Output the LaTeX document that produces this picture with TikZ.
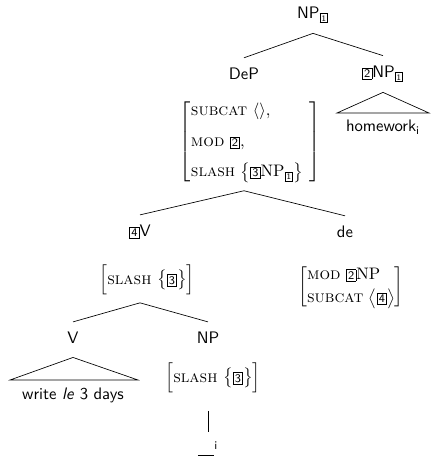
\documentclass[tikz,border=0pt]{standalone}
\usepackage{amsmath}

% boxed structure-sharing tags
\newcommand{\tagbox}[1]{{\setlength{\fboxsep}{0.8pt}\fbox{\sffamily\scriptsize #1}}}
\newcommand{\subtag}[1]{{\setlength{\fboxsep}{0.8pt}\fbox{\sffamily\tiny #1}}}
\newcommand{\feat}[1]{\textsc{#1}}

\begin{document}
\begin{tikzpicture}[x=0.6pt, y=-0.6pt,
    cat/.style={font=\sffamily, inner xsep=2pt, inner ysep=6pt},
    avm/.style={inner xsep=0pt, inner ysep=4.5pt}]
	\useasboundingbox (0,0) rectangle (430,460);

	% NP and its two daughters
	\node[cat] (np) at (313,15) {NP$_{\subtag{1}}$};
	\node[cat] (dep) at (244,74) {DeP};
	\node[cat] (hw) at (383,74) {\tagbox{2}NP$_{\subtag{1}}$};
	\node[cat] (hwtext) at (383,127) {homework\textsubscript{i}};
	\node[avm] (depavm) at (250,142) {$\left[\begin{array}{@{}l@{}}
		\feat{subcat}\ \langle\rangle, \\[7pt]
		\feat{mod}\ \tagbox{2}, \\[6pt]
		\feat{slash}\ \bigl\{\tagbox{3}\mathrm{NP}_{\subtag{1}}\bigr\}
		\end{array}\ \right]$};
	\draw (np.south) -- (dep.north);
	\draw (np.south) -- (hw.north);
	\draw (hw.south) -- (337,113) -- (429,113) -- cycle;

	% DeP: V and de
	\node[cat] (v4) at (140,232) {\tagbox{4}V};
	\node[cat] (de) at (345,232) {de};
	\node[avm] (vavm) at (147,280) {$\Bigl[\feat{slash}\ \bigl\{\tagbox{3}\bigr\}\Bigr]$};
	\node[avm] (deavm) at (351,287) {$\left[\begin{array}{@{}l@{}}
		\feat{mod}\ \tagbox{2}\mathrm{NP} \\[2pt]
		\feat{subcat}\ \bigl\langle\tagbox{4}\bigr\rangle
		\end{array}\right]$};
	\draw (dep |- depavm.south) -- (v4.north);
	\draw (dep |- depavm.south) -- (de.north);

	% V and its NP gap
	\node[cat] (v) at (73,338) {V};
	\node[cat] (np2) at (208,338) {NP};
	\node[cat] (vtext) at (73,395) {write \textit{le} 3 days};
	\node[avm] (npavm) at (213,378) {$\Bigl[\feat{slash}\ \bigl\{\tagbox{3}\bigr\}\Bigr]$};
	\node[cat] (trace) at (208,449) {\rule{10pt}{0.4pt}\textsuperscript{i}};
	\draw (v4 |- vavm.south) -- (v.north);
	\draw (v4 |- vavm.south) -- (np2.north);
	\draw ([yshift=-2pt]v.south) -- (10,380) -- (138,380) -- cycle;
	\draw[shorten <=6pt] (np2 |- npavm.south) -- (np2 |- trace.north);
\end{tikzpicture}
\end{document}
